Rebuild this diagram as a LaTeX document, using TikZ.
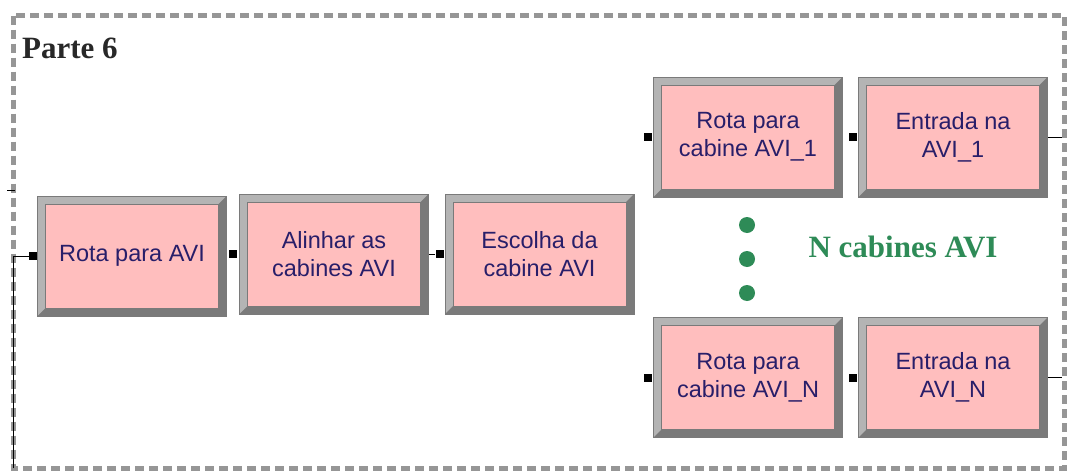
\documentclass[tikz,border=0pt]{standalone}
\usepackage{fontspec}
\setmainfont{Liberation Serif}
\newfontfamily\arialfont{Liberation Sans}
\usetikzlibrary{positioning}
\definecolor{boxpink}{RGB}{255,190,190}
\definecolor{bevlight}{RGB}{180,180,180}
\definecolor{bevdark}{RGB}{122,122,122}
\definecolor{boxtext}{RGB}{40,30,105}
\definecolor{framegray}{RGB}{150,150,150}
\definecolor{notegreen}{RGB}{46,139,87}

\tikzset{
  modbox/.style={draw=bevdark, line width=0.6pt, fill=bevlight,
    minimum width=189pt, minimum height=120pt, inner sep=0pt,
    align=center, text=boxtext, font=\arialfont\fontsize{23.5}{28}\selectfont,
    path picture={
      \fill[bevdark] (path picture bounding box.south west) -- (path picture bounding box.south east)
        -- (path picture bounding box.north east) -- ([shift={(-8pt,-8pt)}]path picture bounding box.north east)
        -- ([shift={(-8pt,8pt)}]path picture bounding box.south east) -- ([shift={(8pt,8pt)}]path picture bounding box.south west) -- cycle;
      \fill[boxpink, draw=bevdark, line width=0.5pt] ([shift={(8pt,8pt)}]path picture bounding box.south west)
        rectangle ([shift={(-8pt,-8pt)}]path picture bounding box.north east);
    }},
  port/.style={fill=black, minimum size=8pt, inner sep=0pt, anchor=east},
  link/.style={line width=1pt, black},
  dotN/.style={fill=notegreen, draw=none},
}

\begin{document}
\begin{tikzpicture}[x=1pt, y=-1pt]

    % 1. Frame and title
    \useasboundingbox (0,0) rectangle (1068,471);
    \draw[framegray, line width=5pt, dash pattern=on 9pt off 5pt] (13.5,15.5) rectangle (1064.5,468);
    \node[anchor=base west, inner sep=0pt, text={rgb,255:red,40;green,40;blue,40},
          font=\bfseries\fontsize{31}{36}\selectfont] (title) at (22,58) {Parte 6};

    % 2. Modules
    \node[modbox] (rota)    at (132,256)   {Rota para AVI};
    \node[modbox] (alinhar) at (334,254)   {Alinhar as\\cabines AVI};
    \node[modbox] (escolha) at (539.5,254) {Escolha da\\cabine AVI};
    \node[modbox] (rota1)   at (748,137)   {Rota para\\cabine AVI\_1};
    \node[modbox] (entr1)   at (953,137)   {Entrada na\\AVI\_1};
    \node[modbox] (rotaN)   at (748,377.5) {Rota para\\cabine AVI\_N};
    \node[modbox] (entrN)   at (953,377.5) {Entrada na\\AVI\_N};

    % 3. Entry ports
    \foreach \m/\dx in {rota/0, alinhar/-2, escolha/-1, rota1/-1, entr1/-1, rotaN/-1, entrN/-1} {
        \node[port, xshift=\dx pt] (in-\m) at (\m.west) {};
    }

    % 4. Connectors
    \coordinate (loopbot) at (13.5,468);
    \coordinate (stubL) at (7,190);
    \coordinate (stubR) at (15,190);
    \coordinate (out1) at (1062,137);
    \coordinate (outN) at (1062,377.5);
    \draw[link] (loopbot) |- (in-rota);
    \draw[link] (stubL) -- (stubR);
    \draw[link] (alinhar.east) -- (in-escolha);
    \draw[link] (entr1.east) -- (out1);
    \draw[link] (entrN.east) -- (outN);

    % 5. N cabines note
    \foreach \y in {225,259,293} {
        \fill[dotN] (747,\y) circle (8pt);
    }
    \node[anchor=base, inner sep=0pt, text=notegreen,
          font=\bfseries\fontsize{31}{36}\selectfont] (nota) at (903,257) {N cabines AVI};

\end{tikzpicture}
\end{document}
